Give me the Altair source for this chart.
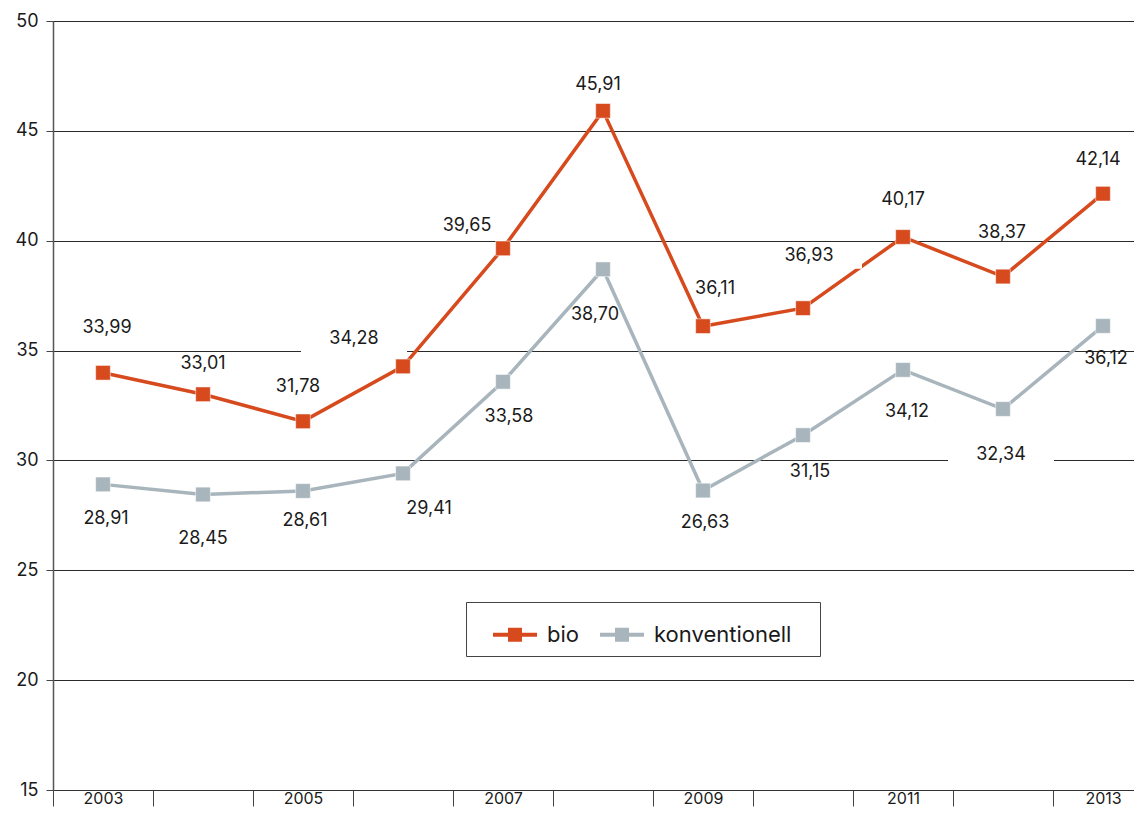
import altair as alt
import pandas as pd

# ---- data ----
years = list(range(2003, 2014))
bio = [33.99, 33.01, 31.78, 34.28, 39.65, 45.91, 36.11, 36.93, 40.17, 38.37, 42.14]
konv = [28.91, 28.45, 28.61, 29.41, 33.58, 38.70, 28.63, 31.15, 34.12, 32.34, 36.12]
bio_labels = ["33,99", "33,01", "31,78", "34,28", "39,65", "45,91", "36,11", "36,93", "40,17", "38,37", "42,14"]
konv_labels = ["28,91", "28,45", "28,61", "29,41", "33,58", "38,70", "26,63", "31,15", "34,12", "32,34", "36,12"]
series_names = ["bio", "konventionell"]
colors = ["#D64A1E", "#A8B5BC"]
y_ticks = [15, 20, 25, 30, 35, 40, 45, 50]

# ---- annotation layout (pixel offsets of value labels from their point) ----
bio_dx = [4, 0, -5, -49, -36, -5, 12, 6, 0, -1, -5]
bio_dy = [-45, -30, -34, -27, -22, -26, -37, -52, -37, -44, -34]
konv_dx = [3, 0, 2, 26, 6, -8, 2, 7, 4, -2, 3]
konv_dy = [35, 45, 30, 36, 35, 46, 32, 37, 42, 46, 33]
bio_box = [0, 0, 0, 1, 0, 0, 0, 1, 0, 0, 0]
konv_box = [0, 0, 0, 0, 0, 0, 0, 0, 0, 1, 0]

# page is 1142 wide with 8px body margins -> svg at most 1126 x 800
W, H = 1081, 769
PAD_TOP, PAD_LEFT, PAD_BOTTOM = 13, 45, 18
PX_PER_YEAR = 100.0
Y_MIN, Y_MAX = 15, 50
PX_PER_UNIT = H / (Y_MAX - Y_MIN)
X_MIN = 2002.5
X_MAX = X_MIN + W / PX_PER_YEAR
FONT = "Inter"

rows = []
for s, vals, labs, dxs, dys, boxes in [
    ("bio", bio, bio_labels, bio_dx, bio_dy, bio_box),
    ("konventionell", konv, konv_labels, konv_dx, konv_dy, konv_box),
]:
    for yr, v, lab, dx, dy, b in zip(years, vals, labs, dxs, dys, boxes):
        rows.append({
            "year": yr, "value": v, "series": s, "label": lab,
            "lx": yr + dx / PX_PER_YEAR, "ly": v - dy / PX_PER_UNIT, "boxed": b,
        })
df = pd.DataFrame(rows)

xscale = alt.Scale(domain=[X_MIN, X_MAX], nice=False, zero=False)
yscale = alt.Scale(domain=[Y_MIN, Y_MAX], nice=False, zero=False)
cscale = alt.Scale(domain=series_names, range=colors)

half_years = [y - 0.5 for y in years]

x_enc = alt.X(
    "year:Q", scale=xscale, title=None,
    axis=alt.Axis(
        values=half_years, grid=False, tickSize=16, tickColor="#444", tickWidth=1,
        domainColor="#333", domainWidth=1.2, labelOffset=50, labelPadding=-16,
        labelExpr="(datum.value + 0.5) % 2 == 1 ? format(datum.value + 0.5, 'd') : ''",
        labelFont=FONT, labelFontSize=16, labelColor="#1a1a1a", labelFlush=False,
        labelOverlap=False, labelBaseline="top",
    ),
)
y_enc = alt.Y(
    "value:Q", scale=yscale, title=None,
    axis=alt.Axis(
        values=y_ticks, grid=True, gridColor="#2a2a2a", gridWidth=1, tickSize=7,
        tickColor="#444", domainColor="#555", domainWidth=1.5, labelPadding=8,
        labelFont=FONT, labelFontSize=18, labelColor="#1a1a1a",
    ),
)

base = alt.Chart(df)

line_layers = []
for name, col in zip(series_names, colors):
    line_layers.append(
        base.transform_filter(alt.datum.series == name)
        .mark_line(strokeWidth=3.5, color=col)
        .encode(x=x_enc, y=y_enc)
    )

boxes = base.transform_filter("datum.boxed == 1").mark_point(
    shape="M-1,-0.236H1V0.236H-1Z", size=106 * 106, filled=True,
    color="white", opacity=1, strokeWidth=0,
).encode(
    x=alt.X("lx:Q", scale=xscale),
    y=alt.Y("ly:Q", scale=yscale),
)

# legend symbol: line with a square, drawn relative to a 45px cell (unit = 22.5px)
legend_symbol = (
    "M-0.244,-0.09H1.711V0.09H-0.244Z "
    "M0.422,-0.311H1.044V0.311H0.422Z"
)

points = base.mark_point(
    shape="square", filled=True, size=215, opacity=1,
    stroke="white", strokeWidth=1, strokeOpacity=0.5,
).encode(
    x=alt.X("year:Q", scale=xscale),
    y=alt.Y("value:Q", scale=yscale),
    color=alt.Color(
        "series:N", scale=cscale,
        legend=alt.Legend(
            title="\u00a0", titleOrient="right", titlePadding=19, titleFontSize=10,
            orient="none", legendX=413, legendY=581,
            direction="horizontal", symbolType=legend_symbol, symbolSize=2025,
            symbolStrokeWidth=0, symbolOpacity=1, labelFont=FONT, labelFontSize=22,
            labelColor="#1a1a1a", labelOffset=26, columnPadding=4, padding=10,
            labelLimit=400, strokeColor="#444", fillColor="white",
        ),
    ),
)

texts = base.mark_text(
    font=FONT, fontSize=18, color="#1a1a1a", align="center", baseline="middle",
).encode(
    x=alt.X("lx:Q", scale=xscale),
    y=alt.Y("ly:Q", scale=yscale),
    text="label:N",
)

chart = alt.layer(*line_layers, boxes, points, texts).properties(
    width=W, height=H,
    autosize=alt.AutoSizeParams(type="none"),
    padding={"left": PAD_LEFT, "top": PAD_TOP, "right": 0, "bottom": PAD_BOTTOM},
).configure_view(stroke=None, clip=False).configure(background="white")

chart.save("out.html", embed_options={"renderer": "svg", "actions": False})
